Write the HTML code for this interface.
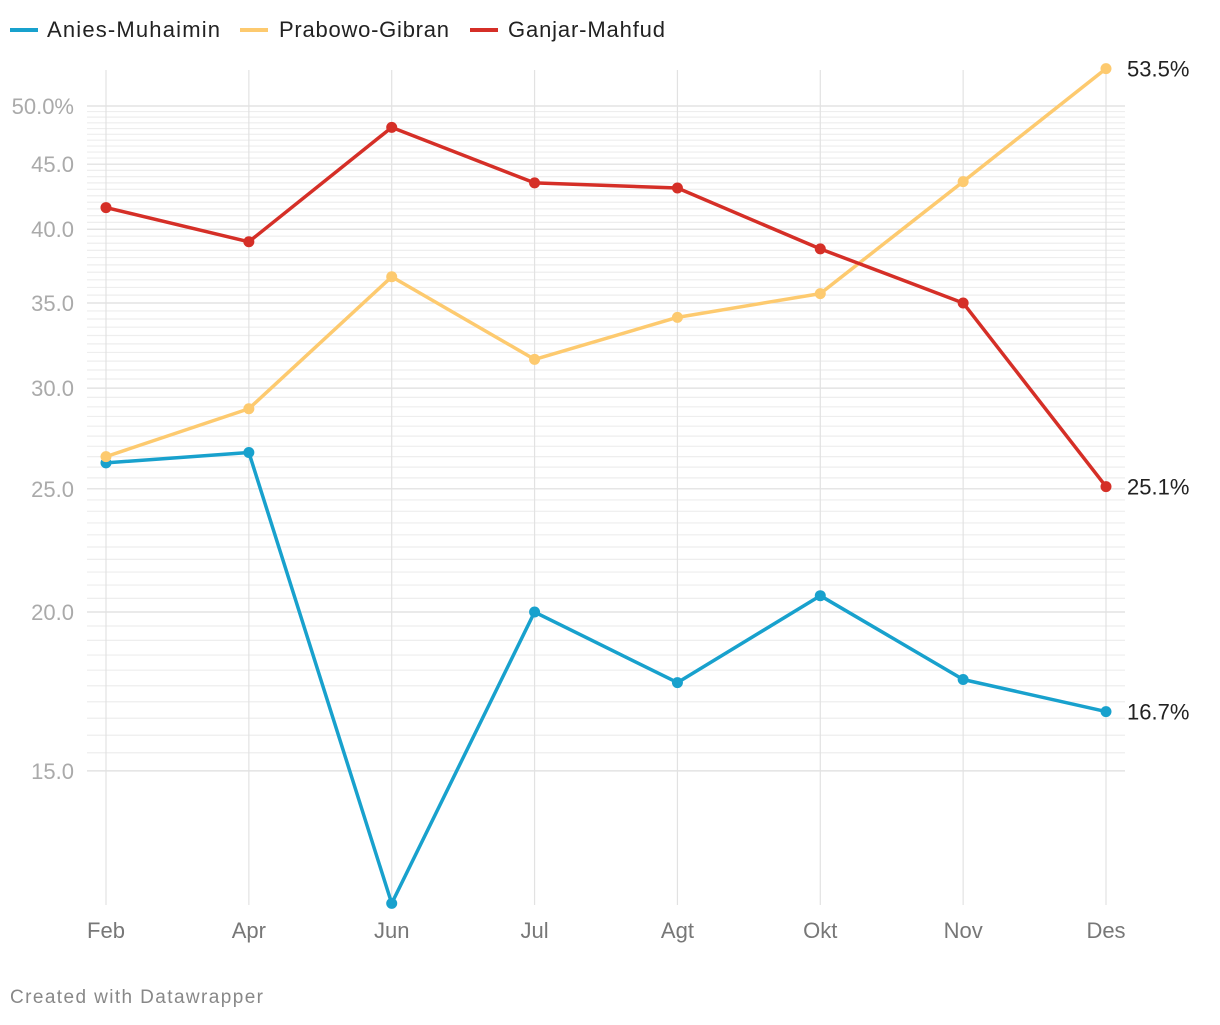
<!DOCTYPE html>
<html><head><meta charset="utf-8"><style>
body{margin:0;background:#fff;font-family:"Liberation Sans",sans-serif;}
svg text{font-family:"Liberation Sans",sans-serif;}
</style></head><body>
<svg id="chart" width="1220" height="1020">
<g id="legend">
<g><line x1="10" y1="30" x2="38" y2="30" stroke="#18a1cd" stroke-width="4"/><text x="47" y="37" font-size="22" fill="#222" textLength="173">Anies-Muhaimin</text></g>
<g><line x1="240" y1="30" x2="268" y2="30" stroke="#fdca6f" stroke-width="4"/><text x="279" y="37" font-size="22" fill="#222" textLength="170">Prabowo-Gibran</text></g>
<g><line x1="470" y1="30" x2="498" y2="30" stroke="#d52f27" stroke-width="4"/><text x="508" y="37" font-size="22" fill="#222" textLength="157">Ganjar-Mahfud</text></g>
</g>
<g id="grid"></g>
<g id="series"></g>
<text x="10" y="1003" font-size="19" fill="#888" textLength="253">Created with Datawrapper</text>
</svg>
<script>
const months=["Feb","Apr","Jun","Jul","Agt","Okt","Nov","Des"];
const anies=[26.2,26.7,11.8,20.0,17.6,20.6,17.7,16.7];
const prabowo=[26.5,28.9,36.7,31.6,34.1,35.6,43.6,53.5];
const ganjar=[41.6,39.1,48.1,43.5,43.1,38.6,35.0,25.1];
const yTicks=[15,20,25,30,35,40,45,50];
const yTickLabels=["15.0","20.0","25.0","30.0","35.0","40.0","45.0","50.0%"];
const NS="http://www.w3.org/2000/svg";
function x(i){return 106+i*(1000/(months.length-1));}
function y(v){return 106-1271.6*Math.log10(v/50);}
function mk(t,a,p){const e=document.createElementNS(NS,t);for(const k in a)e.setAttribute(k,a[k]);p.appendChild(e);return e;}
const grid=document.getElementById('grid');
for(let k=30;k<=100;k++){
 const v=k/2;
 const l=mk('line',{x1:87,x2:1125,y1:y(v),y2:y(v),stroke:yTicks.includes(v)?'#dedede':'#eeeeee','stroke-width':1.2},grid);
 
 
}
months.forEach((m,i)=>{
 const l=mk('line',{x1:x(i),x2:x(i),y1:70,y2:905,stroke:'#e2e2e2','stroke-width':1.2},grid);
 
 
 const t=mk('text',{x:x(i),y:938,'font-size':22,fill:'#777','text-anchor':'middle'},grid);
 t.textContent=m;
 
 
});
yTicks.forEach((v,i)=>{
 const t=mk('text',{x:74,y:y(v)+8,'font-size':22,fill:'#aaa','text-anchor':'end'},grid);
 t.textContent=yTickLabels[i];
 
 
});
const ser=document.getElementById('series');
[[anies,'#18a1cd','anies'],[prabowo,'#fdca6f','prabowo'],[ganjar,'#d52f27','ganjar']].forEach(([d,c,n])=>{
 const p=mk('polyline',{points:d.map((v,i)=>x(i)+','+y(v)).join(' '),fill:'none',stroke:c,'stroke-width':3.5,'stroke-linejoin':'round'},ser);
 
 
 d.forEach((v,i)=>{
  const pt=mk('circle',{cx:x(i),cy:y(v),r:5.5,fill:c},ser);
  
  
 });
 const last=d[d.length-1];
 const t=mk('text',{x:1127,y:y(last)+8,'font-size':22,fill:'#222'},ser);
 t.textContent=last.toFixed(1)+'%';
 
 
});
</script>
</body></html>
